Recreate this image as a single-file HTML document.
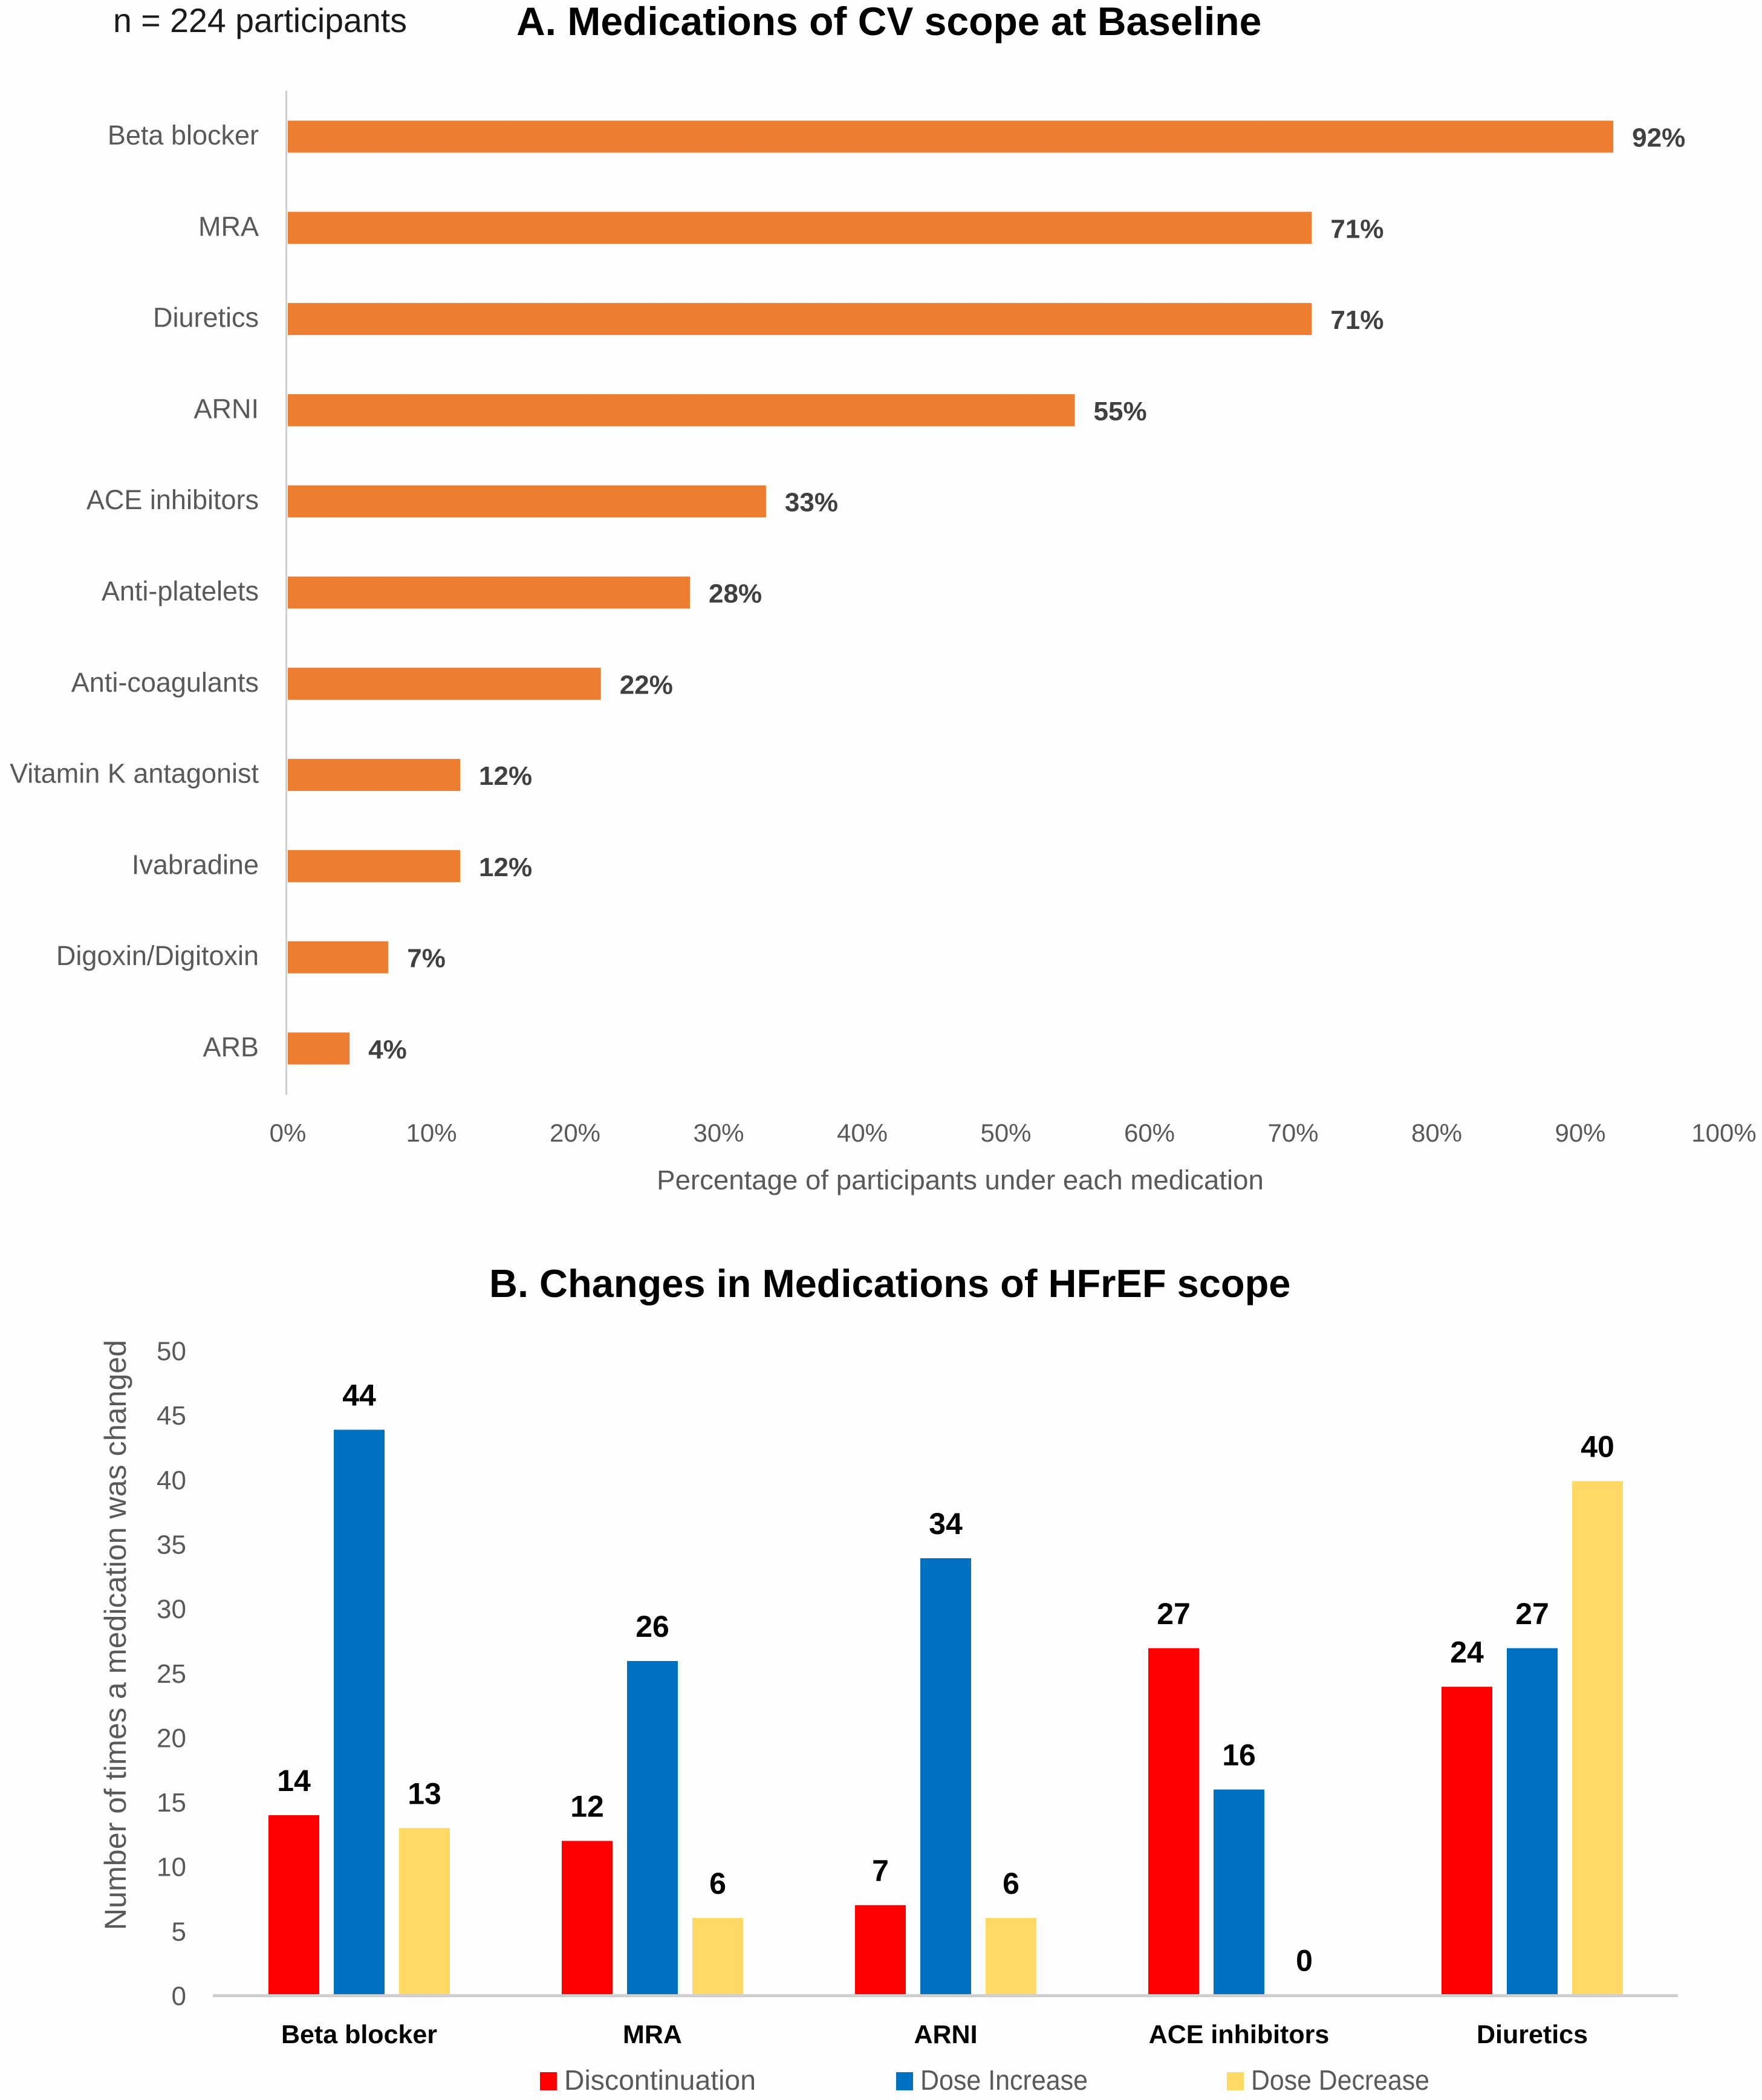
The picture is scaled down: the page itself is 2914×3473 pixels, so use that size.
<!DOCTYPE html>
<html lang="en">
<head>
<meta charset="utf-8">
<title>Medications of CV scope at Baseline and Changes in Medications of HFrEF scope</title>
<style>
html,body{margin:0;padding:0;background:#fefefe;}
svg{display:block;}
text{font-family:"Liberation Sans",Arial,sans-serif;}
</style>
</head>
<body>
<svg id="figure" xmlns="http://www.w3.org/2000/svg" width="2914" height="3473" viewBox="0 0 2914 3473">
  <rect x="0" y="0" width="2914" height="3473" fill="#fefefe"/>
  <text x="187" y="53" font-size="55.5" fill="#1a1a1a">n = 224 participants</text>
  <text x="854" y="58" font-size="66" font-weight="700" fill="#000">A. Medications of CV scope at Baseline</text>
  <text x="1588" y="1967" font-size="45.6" fill="#595959" text-anchor="middle">Percentage of participants under each medication</text>
  <text x="809" y="2145" font-size="65" font-weight="700" fill="#000">B. Changes in Medications of HFrEF scope</text>
  <text transform="translate(208,2704) rotate(-90)" font-size="50.2" fill="#595959" text-anchor="middle">Number of times a medication was changed</text>
  <g id="chart-a"></g>
  <g id="chart-b"></g>
</svg>
<script>
// Chart A data
const medicationNames = ["Beta blocker","MRA","Diuretics","ARNI","ACE inhibitors","Anti-platelets","Anti-coagulants","Vitamin K antagonist","Ivabradine","Digoxin/Digitoxin","ARB"];
const medicationPercent = [92.3,71.3,71.3,54.8,33.3,28,21.8,12,12,7,4.3];
const medicationLabels = ["92%","71%","71%","55%","33%","28%","22%","12%","12%","7%","4%"];
const percentTicks = [0,10,20,30,40,50,60,70,80,90,100];

// Chart B data
const changeCategories = ["Beta blocker","MRA","ARNI","ACE inhibitors","Diuretics"];
const discontinuation = [14,12,7,27,24];
const doseIncrease = [44,26,34,16,27];
const doseDecrease = [13,6,6,0,40];
const countTicks = [0,5,10,15,20,25,30,35,40,45,50];
const legendNames = ["Discontinuation","Dose Increase","Dose Decrease"];

const SVG_NS = "http://www.w3.org/2000/svg";
function make(parent, tag, attrs, content) {
  const el = document.createElementNS(SVG_NS, tag);
  for (const key in attrs) el.setAttribute(key, attrs[key]);
  if (content !== undefined) el.textContent = content;
  parent.appendChild(el);
  return el;
}

// Chart A axes
const percentX = v => 476 + v * 23.75;
const rowTop = i => 199.5 + i * 150.8;
const ROW_BAR_HEIGHT = 53;

const chartA = document.getElementById("chart-a");

const axisA = make(chartA, "rect", {x:472, y:150, width:3, height:1661, fill:"#cfcfcf"});



percentTicks.forEach(t => {
  const tick = make(chartA, "text", {x:percentX(t), y:1888, "font-size":42, fill:"#595959", "text-anchor":"middle"}, t + "%");
  
  
});

medicationNames.forEach((name, i) => {
  const center = rowTop(i) + ROW_BAR_HEIGHT / 2;

  const label = make(chartA, "text", {x:428, y:center + 13, "font-size":45, fill:"#595959", "text-anchor":"end"}, name);
  
  

  const bar = make(chartA, "rect", {x:percentX(0), y:rowTop(i), width:percentX(medicationPercent[i]) - percentX(0), height:ROW_BAR_HEIGHT, fill:"#ed7d31"});
  
  

  const value = make(chartA, "text", {x:percentX(medicationPercent[i]) + 31, y:center + 16.5, "font-size":44, "font-weight":700, fill:"#404040"}, medicationLabels[i]);
  
  
});

// Chart B axes
const countY = v => 3299.5 - v * 21.25;
const tickBaselineY = v => 3316 - v * 21.33;
const groupCenter = i => 594 + i * 485;
const COLUMN_WIDTH = 84;
const COLUMN_STEP = 108;

const chartB = document.getElementById("chart-b");

countTicks.forEach(t => {
  const tick = make(chartB, "text", {x:308, y:tickBaselineY(t), "font-size":44, fill:"#595959", "text-anchor":"end"}, String(t));
  
  
});

const seriesValues = [discontinuation, doseIncrease, doseDecrease];
const seriesColors = ["#ff0000", "#0070c0", "#ffd966"];

changeCategories.forEach((name, i) => {
  const label = make(chartB, "text", {x:groupCenter(i), y:3379, "font-size":43, "font-weight":700, fill:"#000", "text-anchor":"middle"}, name);
  
  

  seriesValues.forEach((values, s) => {
    const cx = groupCenter(i) + (s - 1) * COLUMN_STEP;
    const v = values[i];

    const column = make(chartB, "rect", {x:cx - COLUMN_WIDTH / 2, y:countY(v), width:COLUMN_WIDTH, height:countY(0) - countY(v), fill:seriesColors[s]});
    
    

    const value = make(chartB, "text", {x:cx, y:countY(v) - 40, "font-size":50, "font-weight":700, fill:"#000", "text-anchor":"middle"}, String(v));
    
    
  });
});

const axisB = make(chartB, "rect", {x:352, y:3298, width:2423, height:5, fill:"#cfcfcf"});



// Legend
const legendSwatchX = [893, 1482, 2029];
const legendTextWidth = [317, 277, 295];
legendNames.forEach((name, s) => {
  const swatch = make(chartB, "rect", {x:legendSwatchX[s], y:3427, width:28, height:30, fill:seriesColors[s]});
  
  

  const entry = make(chartB, "text", {x:legendSwatchX[s] + 40, y:3456, "font-size":46, fill:"#595959", textLength:legendTextWidth[s], lengthAdjust:"spacingAndGlyphs"}, name);
  
  
});
</script>
</body>
</html>
